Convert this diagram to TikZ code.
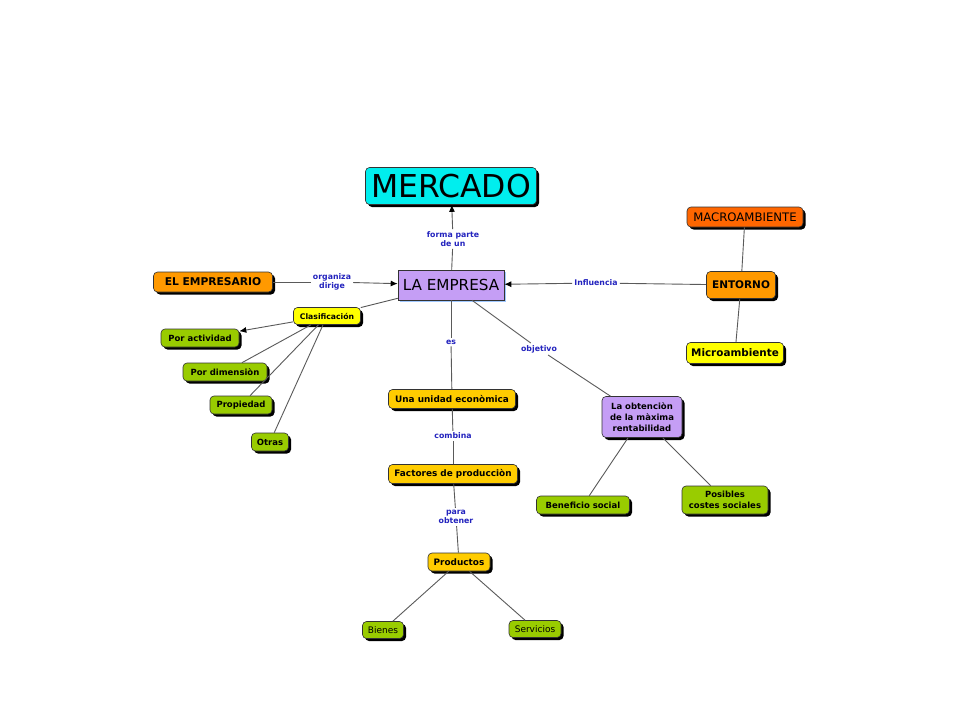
\documentclass[tikz,border=0pt]{standalone}
\usepackage{fontspec}
\setmainfont{DejaVu Sans}
\usepackage[usenames,dvipsnames]{xcolor}
\usetikzlibrary{shadows,arrows.meta}

\definecolor{cmcyan}{RGB}{0,238,238}
\definecolor{cmpurple}{RGB}{197,158,245}
\definecolor{cmorange}{RGB}{255,153,0}
\definecolor{cmred}{RGB}{255,102,0}
\definecolor{cmyellow}{RGB}{255,255,0}
\definecolor{cmgold}{RGB}{255,204,0}
\definecolor{cmgreen}{RGB}{153,204,0}
\definecolor{cmblue}{RGB}{35,35,190}
\definecolor{cmline}{RGB}{90,90,90}
\definecolor{cmshade}{RGB}{160,200,255}

\begin{document}
\begin{tikzpicture}[x=1pt,y=-1pt,>={Latex[length=7pt,width=6pt,color=black]},
    concept/.style={draw=black!80, line width=0.6pt, rounded corners=4pt, inner sep=1pt, align=center,
      drop shadow={shadow xshift=2.5pt,shadow yshift=-2.5pt,fill=black,draw=none,opacity=1}},
    small/.style={font=\bfseries\fontsize{8.5}{11}\selectfont},
    mid/.style={font=\bfseries\fontsize{8.9}{11}\selectfont},
    linkword/.style={text=cmblue, font=\bfseries\fontsize{7.8}{9.5}\selectfont, align=center, inner sep=2pt},
    link/.style={draw=cmline, line width=0.9pt}]
    \useasboundingbox[fill=white] (0,0) rectangle (960,720);

    % concepts
    \node[concept, fill=cmcyan, minimum width=171pt, minimum height=37pt,
      font=\fontsize{31.5}{34}\selectfont] (merc) at (451,186) {MERCADO};
    \node[draw=black!80, line width=0.6pt, fill=cmpurple, inner sep=1pt, minimum width=106pt, minimum height=30pt,
      font=\fontsize{15.2}{17}\selectfont,
      drop shadow={shadow xshift=2pt,shadow yshift=-2pt,fill=cmshade,draw=none,opacity=1}] (emp) at (451,285) {LA EMPRESA};
    \node[concept, fill=cmorange, minimum width=119pt, minimum height=20pt,
      font=\bfseries\fontsize{10.7}{12}\selectfont] (empr) at (213,282) {EL EMPRESARIO};
    \node[concept, fill=cmyellow, minimum width=67pt, minimum height=17pt,
      font=\bfseries\fontsize{7.7}{9}\selectfont] (clas) at (327,316) {Clasificación};
    \node[concept, small, fill=cmgreen, minimum width=78pt, minimum height=18pt] (pact) at (200,338) {Por actividad};
    \node[concept, small, fill=cmgreen, minimum width=84pt, minimum height=18pt] (pdim) at (225,372) {Por dimensiòn};
    \node[concept, small, fill=cmgreen, minimum width=62pt, minimum height=18pt] (prop) at (241,405) {Propiedad};
    \node[concept, small, fill=cmgreen, minimum width=37pt, minimum height=18pt] (otras) at (270,442) {Otras};
    \node[concept, mid, fill=cmgold, minimum width=127pt, minimum height=19pt] (una) at (452,399) {Una unidad econòmica};
    \node[concept, mid, fill=cmgold, minimum width=129pt, minimum height=19pt] (fact) at (453,474) {Factores de producciòn};
    \node[concept, mid, fill=cmgold, minimum width=62pt, minimum height=18pt] (prod) at (459,562) {Productos};
    \node[concept, fill=cmgreen, minimum width=41pt, minimum height=17pt,
      font=\fontsize{9}{11}\selectfont] (bien) at (383,630) {Bienes};
    \node[concept, fill=cmgreen, minimum width=52pt, minimum height=17pt,
      font=\fontsize{9}{11}\selectfont] (serv) at (535,629) {Servicios};
    \node[concept, small, fill=cmpurple, minimum width=80pt, minimum height=41pt] (obt) at (642,417)
      {La obtenciòn\\de la màxima\\rentabilidad};
    \node[concept, small, fill=cmgreen, minimum width=93pt, minimum height=18pt] (benef) at (583,505) {Beneficio social};
    \node[concept, small, fill=cmgreen, minimum width=86pt, minimum height=28pt] (posib) at (725,500)
      {Posibles\\costes sociales};
    \node[concept, fill=cmred, minimum width=116pt, minimum height=20pt,
      font=\fontsize{11.7}{13}\selectfont] (macro) at (745,217) {MACROAMBIENTE};
    \node[concept, fill=cmorange, minimum width=69pt, minimum height=27pt,
      font=\bfseries\fontsize{10.5}{12}\selectfont] (ent) at (741,285) {ENTORNO};
    \node[concept, fill=cmyellow, minimum width=97pt, minimum height=21pt,
      font=\bfseries\fontsize{10.4}{12}\selectfont] (micro) at (735,353) {Microambiente};

    % linking words
    \node[linkword] (lforma) at (453,239) {forma parte\\de un};
    \node[linkword] (lorg) at (332,282) {organiza\\dirige};
    \node[linkword] (linf) at (596,283) {Influencia};
    \node[linkword] (les) at (451,342) {es};
    \node[linkword] (lobj) at (539,349) {objetivo};
    \node[linkword] (lcomb) at (453,436) {combina};
    \node[linkword] (lpara) at (456,517) {para\\obtener};

    % connectors
    \draw[link] (emp) -- (lforma);
    \draw[link,->] (lforma) -- (merc);
    \draw[link] (empr) -- (lorg);
    \draw[link,->] (lorg) -- (emp);
    \draw[link] (ent) -- (linf);
    \draw[link,->] (linf) -- (emp);
    \draw[link] (ent) -- (macro);
    \draw[link] (ent) -- (micro);
    \draw[link] (emp) -- (clas);
    \draw[link,->] (clas) -- (pact);
    \draw[link] (clas) -- (pdim);
    \draw[link] (clas) -- (prop);
    \draw[link] (clas) -- (otras);
    \draw[link] (emp) -- (les);
    \draw[link] (les) -- (una);
    \draw[link] (emp) -- (lobj);
    \draw[link] (lobj) -- (obt);
    \draw[link] (una) -- (lcomb);
    \draw[link] (lcomb) -- (fact);
    \draw[link] (fact) -- (lpara);
    \draw[link] (lpara) -- (prod);
    \draw[link] (prod) -- (bien);
    \draw[link] (prod) -- (serv);
    \draw[link] (obt) -- (benef);
    \draw[link] (obt) -- (posib);
  \end{tikzpicture}
\end{document}
